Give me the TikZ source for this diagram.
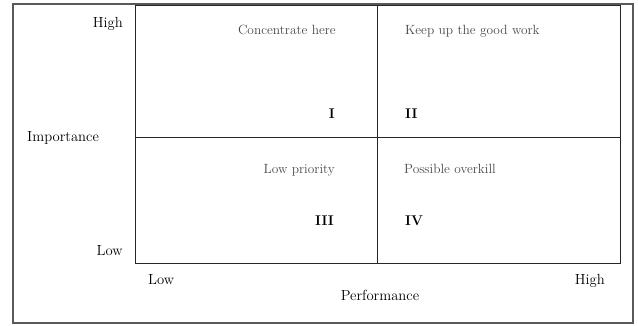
\documentclass[tikz,border=0pt]{standalone}
\usetikzlibrary{positioning}
\tikzset{
  frame/.style={draw=black!65, line width=1.2pt},
  grid/.style={draw=black!85, line width=0.8pt},
  quad/.style={
    font=\fontsize{11.4}{13}\selectfont,
    text=black!72,
    inner sep=0pt},
  roman/.style={
    font=\fontsize{12}{14}\selectfont\bfseries,
    inner sep=0pt},
  axis/.style={
    font=\fontsize{12.5}{15}\selectfont,
    inner sep=0pt},
}

\begin{document}
\begin{tikzpicture}[x=0.03cm,y=-0.03cm]
\useasboundingbox (0,0) rectangle (638,325);
% outer frame and the grid
\draw[frame] (13,4) rectangle (633,323);
\coordinate (NW) at (135,5);
\coordinate (SE) at (620,263);
\draw[grid] (NW) rectangle (SE);
\coordinate (midT) at (377,5);
\coordinate (midB) at (377,263);
\coordinate (midL) at (135,137);
\coordinate (midR) at (620,137);
\draw[grid] (midT) -- (midB);
\draw[grid] (midL) -- (midR);

% quadrants
\node[quad, anchor=base east] (concentrate) at (336,34) {Concentrate here};
\node[quad, anchor=base west] (keepup) at (405,34) {Keep up the good work};
\node[roman, anchor=base east] (one) at (335,118) {I};
\node[roman, anchor=base west] (two) at (405,118) {II};
\node[quad, anchor=base east] (lowprio) at (335,173) {Low priority};
\node[quad, anchor=base west] (overkill) at (404,173) {Possible overkill};
\node[roman, anchor=base east] (three) at (334,225) {III};
\node[roman, anchor=base west] (four) at (405,225) {IV};

% axes
\node[axis, anchor=base east] (imphigh) at (123,27) {High};
\node[axis, anchor=base west] (importance) at (27,141) {Importance};
\node[axis, anchor=base east] (implow) at (123,255) {Low};
\node[axis, anchor=base west] (perflow) at (148,284) {Low};
\node[axis, anchor=base east] (perfhigh) at (605,284) {High};
\node[axis, anchor=base] (performance) at (380,300) {Performance};
\end{tikzpicture}
\end{document}
